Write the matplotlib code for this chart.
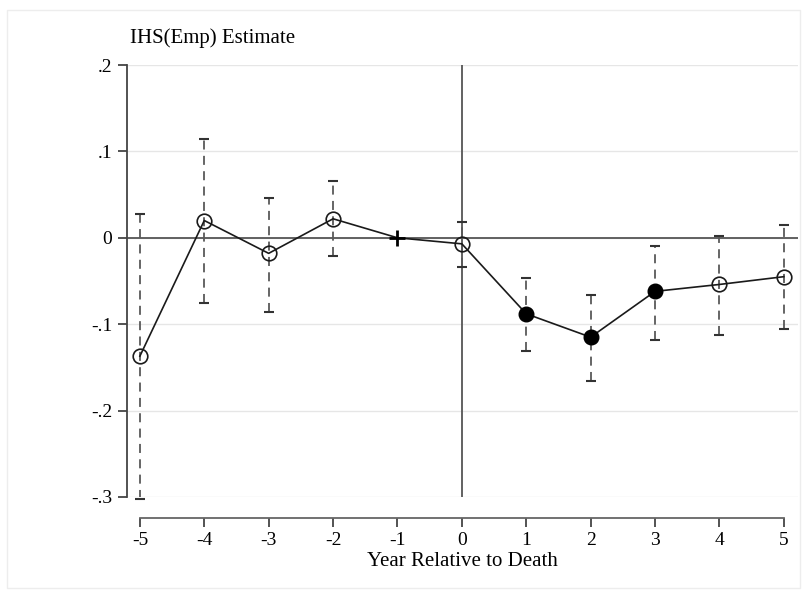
import matplotlib
matplotlib.use("Agg")
import matplotlib.pyplot as plt
from matplotlib.patches import Rectangle

# Data
years = [-5, -4, -3, -2, -1, 0, 1, 2, 3, 4, 5]
estimate = [-0.137, 0.020, -0.018, 0.022, 0.0, -0.007, -0.088, -0.115, -0.062, -0.054, -0.045]
ci_upper = [0.028, 0.114, 0.046, 0.066, 0.0, 0.018, -0.047, -0.066, -0.009, 0.002, 0.015]
ci_lower = [-0.302, -0.076, -0.086, -0.021, 0.0, -0.034, -0.131, -0.166, -0.118, -0.113, -0.106]
significant = [False, False, False, False, False, False, True, True, True, False, False]
reference_year = -1
y_ticks = [-0.3, -0.2, -0.1, 0.0, 0.1, 0.2]
y_tick_labels = ["-.3", "-.2", "-.1", "0", ".1", ".2"]
x_ticks = years
title = "IHS(Emp) Estimate"
xlabel = "Year Relative to Death"

plt.rcParams['font.family'] = ['Liberation Serif', 'DejaVu Serif']

fig = plt.figure(figsize=(8.1, 5.92), dpi=100)
fig.patch.set_facecolor('white')
fig.patches.append(Rectangle((7/810, 1-588/592), 793/810, 578/592, transform=fig.transFigure,
                             fill=False, edgecolor='#ededed', linewidth=1.0))

ax = fig.add_axes([127/810, 1-497/592, (798-127)/810, (497-65)/592])
ax.set_xlim(-5.2, 5.22)
ax.set_ylim(-0.3, 0.2)

# grid
for yt in y_ticks:
    ax.axhline(yt, color='#e6e6e6', linewidth=1.0, zorder=0)
ax.axhline(0, color='#555555', linewidth=1.3, zorder=1)
ax.axvline(0, color='#555555', linewidth=1.3, zorder=1)

# error bars (skip reference year)
for x, lo, hi in zip(years, ci_lower, ci_upper):
    if x == reference_year:
        continue
    ax.vlines(x, lo, hi, colors='#595959', linestyles=(0, (5, 3.5)), linewidth=1.3, zorder=2)
    ax.plot([x, x], [lo, hi], linestyle='none', marker='_', markersize=7.5,
            markeredgewidth=1.5, color='#333333', zorder=3, clip_on=False)

# connecting line
ax.plot(years, estimate, color='#1a1a1a', linewidth=1.2, zorder=4)

# markers
for x, y, s in zip(years, estimate, significant):
    if x == reference_year:
        ax.plot(x, y, marker='+', markersize=12, markeredgewidth=2.0, color='black', zorder=5)
    elif s:
        ax.plot(x, y, marker='o', markersize=10.5, color='black', markeredgecolor='black', zorder=5)
    else:
        ax.plot(x, y, marker='o', markersize=10.5, markerfacecolor='none',
                markeredgecolor='#1a1a1a', markeredgewidth=1.2, zorder=5, clip_on=False)

# spines
for s in ['top', 'right']:
    ax.spines[s].set_visible(False)
ax.spines['left'].set_color('#444444')
ax.spines['left'].set_linewidth(1.3)
ax.spines['left'].set_bounds(-0.3, 0.2)
ax.spines['bottom'].set_position(('outward', 15))
ax.spines['bottom'].set_bounds(-5, 5)
ax.spines['bottom'].set_color('#666666')
ax.spines['bottom'].set_linewidth(1.3)

ax.set_yticks(y_ticks)
ax.set_yticklabels(y_tick_labels)
ax.set_xticks(x_ticks)
ax.set_xticklabels([str(v) for v in x_ticks])
ax.tick_params(axis='both', labelsize=14, colors='#444444', labelcolor='black',
               length=6.5, width=1.3, pad=4)

ax.set_xlabel(xlabel, fontsize=15, labelpad=2)
fig.text(130/810, 1-38/592, title, fontsize=15, ha='left', va='center')

fig.savefig("out.png", dpi=100, facecolor='white')
